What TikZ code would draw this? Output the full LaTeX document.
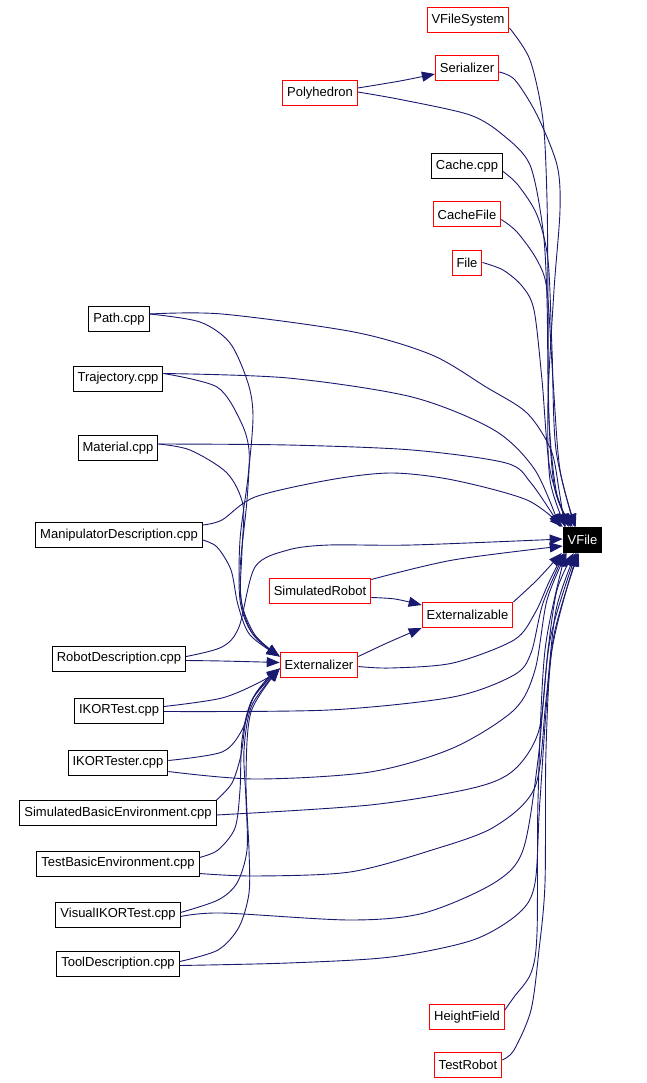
\documentclass[tikz,border=0pt]{standalone}
\usepackage{fontspec}
\setmainfont{Liberation Sans}
\usetikzlibrary{arrows.meta}
\definecolor{navy}{HTML}{191970}
\begin{document}
\begin{tikzpicture}[x=1pt,y=-1pt,
  box/.style={draw=red, line width=1pt, minimum height=25pt, inner xsep=4.5pt, inner ysep=0pt,
    font=\fontsize{13}{15}\selectfont, fill=white, text=black},
  cppbox/.style={box, draw=black},
  edge/.style={draw=navy, line width=0.9pt, -{Triangle[length=13pt,width=10pt]}}]
\useasboundingbox (0,0) rectangle (646,1083);
% nodes
\node[box] (VFileSystem) at (468,20) {VFileSystem};
\node[box] (Serializer) at (467,68) {Serializer};
\node[box] (Polyhedron) at (320,93) {Polyhedron};
\node[cppbox] (Cache) at (467,166.5) {Cache.cpp};
\node[box] (CacheFile) at (467,214.5) {CacheFile};
\node[box] (File) at (467,262.5) {File};
\node[cppbox] (Path) at (119,319) {Path.cpp};
\node[cppbox] (Trajectory) at (118,378.5) {Trajectory.cpp};
\node[cppbox] (Material) at (118,448) {Material.cpp};
\node[cppbox] (Manip) at (119,535) {ManipulatorDescription.cpp};
\node[box, draw=black, fill=black, text=white] (VFile) at (582.5,540) {VFile};
\node[box] (SimRobot) at (320,590.5) {SimulatedRobot};
\node[box] (Extable) at (467.5,615) {Externalizable};
\node[box] (Extizer) at (319,664.5) {Externalizer};
\node[cppbox] (RobotDesc) at (119,658.5) {RobotDescription.cpp};
\node[cppbox] (IKORTest) at (119,710.5) {IKORTest.cpp};
\node[cppbox] (IKORTester) at (118,762.5) {IKORTester.cpp};
\node[cppbox] (SimBasic) at (118,813) {SimulatedBasicEnvironment.cpp};
\node[cppbox] (TestBasic) at (118,863.5) {TestBasicEnvironment.cpp};
\node[cppbox] (Visual) at (118,914.5) {VisualIKORTest.cpp};
\node[cppbox] (Tool) at (118,963.5) {ToolDescription.cpp};
\node[box] (HeightField) at (467,1017) {HeightField};
\node[box] (TestRobot) at (468,1065) {TestRobot};

% edges into VFile from above
\draw[edge] plot[smooth] coordinates {([yshift=-8pt]VFileSystem.east) (530,60) (543,120) (547,200) (548,300) (549,420) (555,490) ([xshift=8pt]VFile.north west)};
\draw[edge] plot[smooth] coordinates {([yshift=-4pt]Serializer.east) (515,80) (537,115) (557,165) (560,210) (554,290) (548,400) (550,480) ([xshift=3pt]VFile.north west)};
\draw[edge] plot[smooth] coordinates {([yshift=1pt]Polyhedron.east) (403,100) (470,115) (503,135) (530,165) (543,230) (547,300) (549,420) (557,495) ([xshift=10pt]VFile.north west)};
\draw[edge] plot[smooth] coordinates {([yshift=-5pt]Cache.east) (518,185) (537,215) (548,260) (552,350) (556,450) ([xshift=12pt]VFile.north west)};
\draw[edge] plot[smooth] coordinates {([yshift=-5pt]CacheFile.east) (517,232) (537,260) (547,290) (553,380) (560,470) ([xshift=13pt]VFile.north west)};
\draw[edge] plot[smooth] coordinates {(File.east) (503,270) (522,286) (534,310) (542,380) (550,470) ([xshift=6pt]VFile.north west)};
\draw[edge] plot[smooth] coordinates {([yshift=5pt]Path.east) (222,314) (354,332) (432,355) (486,387) (527,413) (551,450) (559,490) ([xshift=2pt]VFile.north west)};
\draw[edge] plot[smooth] coordinates {([yshift=5pt]Trajectory.east) (288,378) (412,397) (494,430) (535,470) ([xshift=-3pt]VFile.north west)};
\draw[edge] plot[smooth] coordinates {([yshift=4pt]Material.east) (288,445) (412,450) (506,463) (531,483) ([xshift=-2pt]VFile.north west)};
\draw[edge] plot[smooth] coordinates {([yshift=10pt]Manip.east) (222,520) (255,497) (329,480) (391,473) (453,480) (527,500) (VFile.north west)};
% from the left
\draw[edge] plot[smooth] coordinates {([yshift=2pt]RobotDesc.east) (222,647) (239,627) (255,567) (288,550) (329,545) (412,545) ([yshift=1pt]VFile.west)};
\draw[edge] plot[smooth] coordinates {([yshift=-2pt]SimRobot.north east) (453,560) ([yshift=-6pt]VFile.west)};
% from below
\draw[edge] plot[smooth] coordinates {(Extable.north east) (537,580) ([xshift=-1pt]VFile.south west)};
\draw[edge] plot[smooth] coordinates {([yshift=-2pt]Extizer.east) (391,668) (453,663) (514,640) (535,613) (549,582) ([xshift=1pt]VFile.south west)};
\draw[edge] plot[smooth] coordinates {([yshift=-1pt]IKORTest.east) (329,710) (453,697) (514,675) (531,653) (543,603) ([xshift=2pt]VFile.south west)};
\draw[edge] plot[smooth] coordinates {([yshift=-9pt]IKORTester.east) (255,779) (370,772) (453,748) (514,710) (535,670) (547,600) ([xshift=4pt]VFile.south west)};
\draw[edge] plot[smooth] coordinates {([yshift=-2pt]SimBasic.east) (370,805) (473,788) (514,770) (539,730) (548,650) (557,590) ([xshift=11pt]VFile.south west)};
\draw[edge] plot[smooth] coordinates {([yshift=-10pt]TestBasic.east) (255,876) (350,872) (432,850) (494,827) (535,787) (546,700) (556,610) ([xshift=13pt]VFile.south west)};
\draw[edge] plot[smooth] coordinates {([yshift=-2pt]Visual.east) (222,913) (350,920) (424,913) (494,883) (523,850) (538,760) (550,640) ([xshift=14pt]VFile.south west)};
\draw[edge] plot[smooth] coordinates {([yshift=-2pt]Tool.east) (288,963) (391,957) (473,940) (519,913) (535,883) (540,800) (552,650) ([xshift=15pt]VFile.south west)};
\draw[edge] plot[smooth] coordinates {([yshift=7pt]HeightField.east) (514,997) (531,973) (537,933) (538,800) (545,650) ([xshift=3pt]VFile.south west)};
\draw[edge] plot[smooth] coordinates {([yshift=5pt]TestRobot.east) (514,1050) (531,1010) (539,950) (545,883) (546,750) (553,640) ([xshift=16pt]VFile.south west)};

% into Externalizer from above
\draw[edge] plot[smooth] coordinates {([yshift=5pt]Path.east) (200,322) (230,343) (248,383) (253,417) (248,477) (240,540) (240,600) (252,633) ([yshift=-5pt]Extizer.north west)};
\draw[edge] plot[smooth] coordinates {([yshift=5pt]Trajectory.east) (217,387) (240,420) (249,450) (247,500) (240,570) (243,610) (255,637) ([yshift=-5pt]Extizer.north west)};
\draw[edge] plot[smooth] coordinates {([yshift=4pt]Material.east) (190,450) (227,473) (243,505) (242,550) (241,600) (255,635) ([yshift=-5pt]Extizer.north west)};
\draw[edge] plot[smooth] coordinates {([yshift=-5pt]Manip.east) (217,547) (231,570) (238,605) (250,635) ([yshift=-5pt]Extizer.north west)};
\draw[edge] plot[smooth] coordinates {([yshift=-2pt]RobotDesc.east) (222,661) ([yshift=2pt]Extizer.west)};
% into Externalizer from below
\draw[edge] plot[smooth] coordinates {([yshift=4pt]IKORTest.east) (222,698) (262,681) ([yshift=-4pt]Extizer.west)};
\draw[edge] plot[smooth] coordinates {([yshift=2pt]IKORTester.east) (222,752) (242,730) (252,700) (266,680) ([yshift=-4pt]Extizer.west)};
\draw[edge] plot[smooth] coordinates {(SimBasic.north east) (232,783) (241,755) (246,720) (256,693) ([yshift=-4pt]Extizer.west)};
\draw[edge] plot[smooth] coordinates {([yshift=6pt]TestBasic.east) (218,850) (235,828) (240,790) (242,740) (252,700) ([yshift=-4pt]Extizer.west)};
\draw[edge] plot[smooth] coordinates {([yshift=2pt]Visual.east) (218,900) (237,883) (247,850) (246,800) (244,750) (252,705) ([yshift=-4pt]Extizer.west)};
\draw[edge] plot[smooth] coordinates {([yshift=2pt]Tool.east) (218,950) (239,927) (249,893) (249,850) (246,780) (251,712) ([yshift=-4pt]Extizer.west)};

% others
\draw[edge] plot[smooth] coordinates {([yshift=5pt]Polyhedron.east) (400,81) ([yshift=-6pt]Serializer.west)};
\draw[edge] plot[smooth] coordinates {([yshift=-7pt]SimRobot.east) (395,599) ([yshift=-3pt]Extable.north west)};
\draw[edge] plot[smooth] coordinates {([yshift=8pt]Extizer.east) (387,643) (Extable.south west)};
\end{tikzpicture}
\end{document}
